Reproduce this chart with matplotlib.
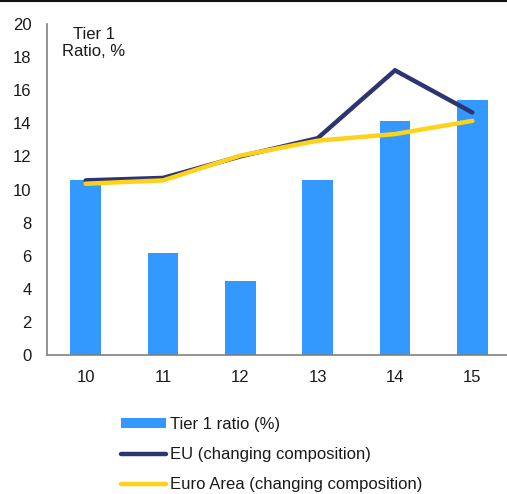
import matplotlib
matplotlib.use("Agg")
import matplotlib.pyplot as plt
from matplotlib.lines import Line2D

plt.rcParams['font.family'] = ['Liberation Sans', 'DejaVu Sans']

# Daten
years = ["10", "11", "12", "13", "14", "15"]
tier1 = [10.6, 6.15, 4.45, 10.6, 14.15, 15.4]
eu = [10.55, 10.7, 12.0, 13.1, 17.2, 14.65]
euro_area = [10.35, 10.55, 12.05, 12.95, 13.35, 14.15]

W, H = 507, 494
fig = plt.figure(figsize=(W / 100, H / 100), dpi=100)
ax = fig.add_axes([47 / W, (H - 355) / H, (511 - 47) / W, (355 - 24) / H])

x = range(len(years))
bars = ax.bar(x, tier1, width=0.4, color="#3399FF", label="Tier 1 ratio (%)", zorder=1)
l_eu, = ax.plot(x, eu, color="#2E3472", lw=3.2, label="EU (changing composition)",
                solid_capstyle="round", solid_joinstyle="miter", zorder=2)
l_ea, = ax.plot(x, euro_area, color="#FFD21A", lw=3.2, label="Euro Area (changing composition)",
                solid_capstyle="round", zorder=3)

ax.set_xlim(-0.5, 5.5)
ax.set_ylim(0, 20)
ax.set_yticks(range(0, 21, 2))
ax.set_xticks(list(x))
ax.set_xticklabels(years)
ax.tick_params(length=0, labelsize=12, colors="#1a1a1a")
ax.tick_params(axis="y", pad=11)
ax.tick_params(axis="x", pad=11)

for s in ["top", "right"]:
    ax.spines[s].set_visible(False)
for s in ["left", "bottom"]:
    ax.spines[s].set_color("#808080")
    ax.spines[s].set_linewidth(1.2)

# Achsentitel oben links
fig.text(94 / W, 1 - 43 / H, "Tier 1\nRatio, %", ha="center", va="center",
         fontsize=12, color="#1a1a1a", linespacing=1.1)

# Rahmenlinie oben
fig.add_artist(Line2D([0, 1], [1 - 1 / H, 1 - 1 / H], color="#111111", lw=1.5))

fig.legend([bars, l_eu, l_ea],
           ["Tier 1 ratio (%)", "EU (changing composition)", "Euro Area (changing composition)"],
           loc="upper left", bbox_to_anchor=(121 / W, 1 - 417 / H),
           frameon=False, fontsize=12, handlelength=2.7, handletextpad=0.25,
           handleheight=0.5, labelspacing=0.9, borderaxespad=0, borderpad=0,
           labelcolor="#1a1a1a")

plt.savefig("out.png", dpi=100)
